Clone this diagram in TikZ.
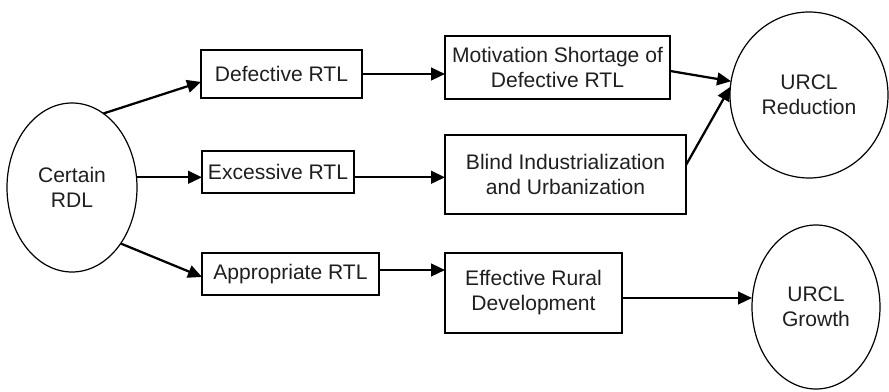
\documentclass[tikz,border=0pt]{standalone}
\usepackage{fontspec}
\setmainfont{Liberation Sans}
\usetikzlibrary{arrows.meta,calc,shapes.geometric}
\begin{document}
\begin{tikzpicture}[x=0.75pt,y=-0.75pt,
  txt/.style={align=center, inner sep=0pt, outer sep=0pt, text=black!88,
    font=\fontsize{15.8}{18.8}\selectfont},
  box/.style={txt, draw, line width=1pt},
  oval/.style={txt, ellipse, draw, line width=0.9pt},
  arr/.style={line width=1.7pt, -{Triangle[length=10.5pt,width=9.5pt]}}]
\useasboundingbox (0,0) rectangle (889,392);

% ovals
\node[oval, minimum width=97.5pt, minimum height=126.75pt] (cert) at (72,187.5) {Certain\\RDL};
\node[oval, minimum width=118.5pt, minimum height=124.5pt] (red) at (809,95) {URCL\\Reduction};
\node[oval, minimum width=96pt, minimum height=123pt] (grow) at (816,307) {URCL\\Growth};

% boxes
\node[box, minimum width=120.75pt, minimum height=36pt] (def) at (281.5,74) {Defective RTL};
\node[box, minimum width=114pt, minimum height=31.5pt] (exc) at (278,172) {Excessive RTL};
\node[box, minimum width=132.75pt, minimum height=31.5pt] (app) at (290.5,274) {Appropriate RTL};
\node[box, minimum width=168.75pt, minimum height=47.25pt] (mot) at (557.5,67.5) {Motivation Shortage of\\Defective RTL};
\node[box, minimum width=180.75pt, minimum height=59.25pt] (blind) at (565.5,174.5) {Blind Industrialization\\and Urbanization};
\node[box, minimum width=132.75pt, minimum height=60pt] (eff) at (533.5,293) {Effective Rural\\Development};

% connectors
\draw[arr] (cert.67) -- ($(def.west)!0.33!(def.south west)$);
\draw[arr] (cert.9) -- (cert.9 -| exc.west);
\draw[arr] (cert.-49) -- ($(app.west)!0.14!(app.south west)$);

\draw[arr] (def.east) -- (def.east -| mot.west);
\draw[arr] (exc.east |- cert.9) -- (cert.9 -| blind.west);
\coordinate (a1) at ($(app.east)!0.19!(app.north east)$);
\draw[arr] (a1) -- (a1 -| eff.west);

\draw[arr] ($(mot.east)!0.11!(mot.south east)$) -- (red.170);
\draw[arr] ($(blind.east)!0.24!(blind.north east)$) -- (red.174);
\coordinate (e1) at ($(eff.east)!0.125!(eff.south east)$);
\draw[arr] (e1) -- (e1 -| grow.west);
\end{tikzpicture}
\end{document}
